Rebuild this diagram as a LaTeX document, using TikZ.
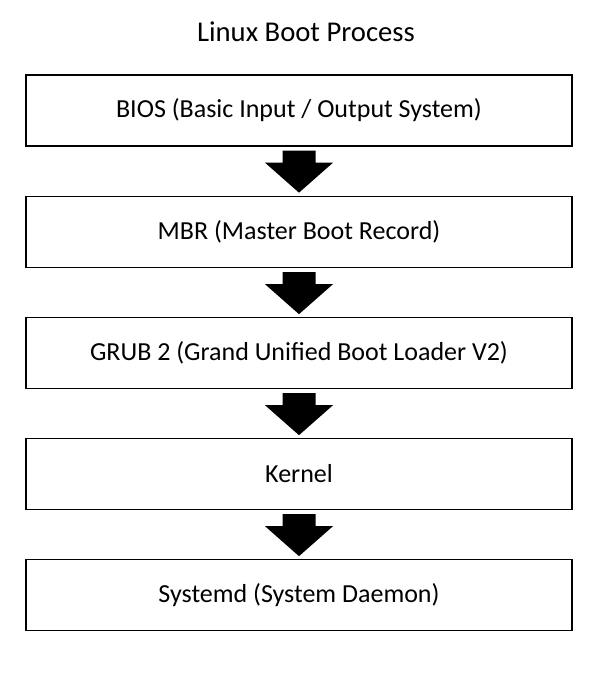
\documentclass[tikz,border=0pt]{standalone}
\usepackage{fontspec}
\setmainfont{Carlito}
\usetikzlibrary{calc}

\tikzset{
    stage/.style={draw, line width=1pt, minimum width=409.5pt, minimum height=53.25pt,
        inner sep=0pt, font=\fontsize{19.5}{23}\selectfont},
    heading/.style={font=\fontsize{21.5}{26}\selectfont},
}

% filled block arrow from the bottom of one stage to the next
\newcommand{\flowarrow}[1]{%
    \fill ($(#1.south)+(-16.5,4)$) -- ($(#1.south)+(16.5,4)$) -- ($(#1.south)+(16.5,16)$)
        -- ($(#1.south)+(34,16)$) -- ($(#1.south)+(0,46)$) -- ($(#1.south)+(-34,16)$)
        -- ($(#1.south)+(-16.5,16)$) -- cycle;}

\begin{document}
\begin{tikzpicture}[x=0.75pt, y=-0.75pt]
    \useasboundingbox (0,0) rectangle (608,693);
    \node[heading] (title) at (306,32) {Linux Boot Process};
    \node[stage] (bios) at (299,110.5) {BIOS (Basic Input / Output System)};
    \node[stage] (mbr) at (299,232) {MBR (Master Boot Record)};
    \node[stage] (grub) at (299,353) {GRUB 2 (Grand Unified Boot Loader V2)};
    \node[stage] (kernel) at (299,474) {Kernel};
    \node[stage] (systemd) at (299,595) {Systemd (System Daemon)};
    \flowarrow{bios}
    \flowarrow{mbr}
    \flowarrow{grub}
    \flowarrow{kernel}
\end{tikzpicture}
\end{document}
